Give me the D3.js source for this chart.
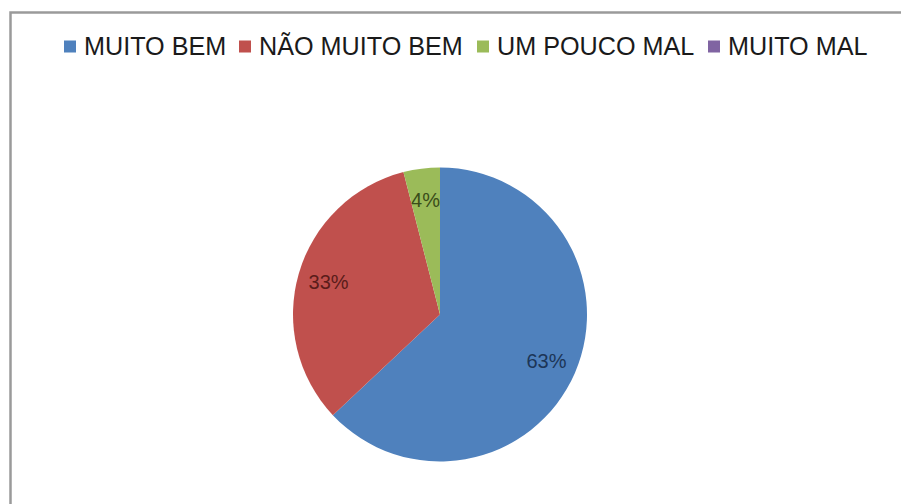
<!DOCTYPE html>
<html>
<head>
<meta charset="utf-8">
<script src="https://cdn.jsdelivr.net/npm/d3@7"></script>
<style>
  html, body { margin: 0; padding: 0; background: #fff; }
  svg { display: block; }
</style>
</head>
<body>
<svg id="chart" width="901" height="504"></svg>
<script>
// Survey answers and their shares (%)
const categories = ["MUITO BEM", "NÃO MUITO BEM", "UM POUCO MAL", "MUITO MAL"];
const values = [63, 33, 4, 0];
const colors = ["#4f81bd", "#c0504d", "#9bbb59", "#8064a2"];
const labelColors = ["#1c3557", "#5a1c1a", "#3a4d1a", "#3b2d4d"];

const svg = d3.select("#chart");
const W = 901, H = 504;

// Chart frame
svg.append("path")
  .attr("d", `M10.5,${H} V12.5 H${W}`)
  .attr("fill", "none")
  .attr("stroke", "#9a9a9a")
  .attr("stroke-width", 2.5);

// Legend
const legendX = [64, 239, 477, 708];
const legend = svg.append("g").attr("font-family", "Liberation Sans, Arial, sans-serif")
  .attr("font-size", 25.2).attr("fill", "#1a1a1a");
categories.forEach((c, i) => {
  legend.append("rect")
    .attr("x", legendX[i]).attr("y", 40.5)
    .attr("width", 12).attr("height", 12)
    .attr("fill", colors[i]);
  legend.append("text")
    .attr("x", legendX[i] + 20).attr("y", 55)
    .text(c);
});

// Pie
const cx = 440, cy = 314.5, r = 147;
const pie = d3.pie().sort(null).value(d => d)
  .startAngle(0).endAngle(2 * Math.PI);
const arcs = pie(values);
const arc = d3.arc().innerRadius(0).outerRadius(r);
const labelArc = d3.arc().innerRadius(116).outerRadius(116);

const g = svg.append("g").attr("transform", `translate(${cx},${cy})`);
g.selectAll("path.slice")
  .data(arcs.filter(d => d.value > 0))
  .join("path")
  .attr("class", "slice")
  .attr("d", arc)
  .attr("fill", d => colors[d.index]);

g.selectAll("text.lbl")
  .data(arcs.filter(d => d.value > 0))
  .join("text")
  .attr("class", "lbl")
  .attr("transform", d => `translate(${labelArc.centroid(d)})`)
  .attr("text-anchor", "middle")
  .attr("dy", "0.36em")
  .attr("font-family", "Liberation Sans, Arial, sans-serif")
  .attr("font-size", 20)
  .attr("fill", d => labelColors[d.index])
  .text(d => d.value + "%");
</script>
</body>
</html>
